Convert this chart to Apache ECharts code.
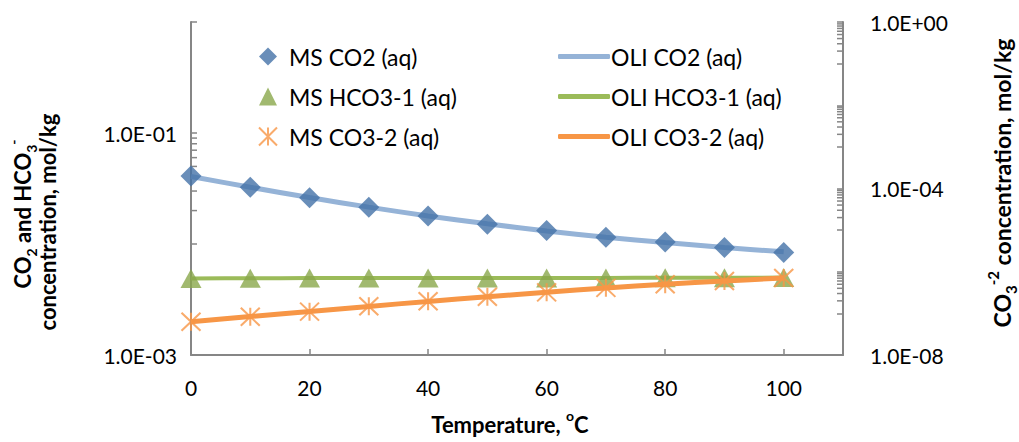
<!DOCTYPE html>
<html>
<head>
<meta charset="utf-8">
<script src="https://cdn.jsdelivr.net/npm/echarts@6/dist/echarts.min.js"></script>
<style>
  html, body { margin: 0; padding: 0; background: #ffffff; }
  #chart { width: 1019px; height: 442px; }
</style>
</head>
<body>
<div id="chart"></div>
<script>
// Temperature, degC
const temperatures = [0, 10, 20, 30, 40, 50, 60, 70, 80, 90, 100];

// Measured (MS) species concentrations, mol/kg
const msCO2  = [0.0410, 0.0324, 0.0261, 0.0214, 0.0179, 0.0151, 0.0132, 0.0115, 0.0104, 0.0093, 0.0084];
const msHCO3 = [0.00490, 0.00492, 0.00493, 0.00494, 0.00494, 0.00494, 0.00494, 0.00495, 0.00496, 0.00497, 0.00498];
const msCO3  = [6.3e-8, 8.3e-8, 1.10e-7, 1.48e-7, 1.95e-7, 2.50e-7, 3.20e-7, 4.10e-7, 5.00e-7, 6.00e-7, 7.10e-7];

// OLI model curves, mol/kg
const oliCO2  = [0.0405, 0.0325, 0.0262, 0.0215, 0.0179, 0.0152, 0.0131, 0.0115, 0.0103, 0.0093, 0.0085];
const oliHCO3 = [0.00490, 0.00492, 0.00493, 0.00494, 0.00494, 0.00494, 0.00494, 0.00495, 0.00496, 0.00497, 0.00498];
const oliCO3  = [6.3e-8, 8.4e-8, 1.11e-7, 1.47e-7, 1.94e-7, 2.50e-7, 3.20e-7, 4.08e-7, 5.00e-7, 6.00e-7, 7.10e-7];

// Axis labels and minor tick positions
const xTickLabels = [0, 20, 40, 60, 80, 100];
const leftLabelValues  = [1e-3, 1e-1];
const rightLabelValues = [1e-8, 1e-4, 1];
const leftMinorTicks  = [0.02, 0.03, 0.04, 0.05, 0.06, 0.07, 0.08, 0.09];
const rightMinorTicks = [
  2e-7, 3e-7, 4e-7, 5e-7, 6e-7, 7e-7, 8e-7, 9e-7,
  2e-5, 3e-5, 4e-5, 5e-5, 6e-5, 7e-5, 8e-5, 9e-5,
  2e-3, 3e-3, 4e-3, 5e-3, 6e-3, 7e-3, 8e-3, 9e-3,
  0.2, 0.3, 0.4, 0.5, 0.6, 0.7, 0.8, 0.9
];

const FONT = 'Lato';
const AXIS_GREY = '#868686';

const pairs = (xs, ys) => xs.map((x, i) => [x, ys[i]]);

function sciLabel(v) {
  const e = Math.round(Math.log10(v));
  return '1.0E' + (e < 0 ? '-' : '+') + String(Math.abs(e)).padStart(2, '0');
}
function pickLabel(list) {
  return function (v) {
    const lv = Math.log10(v);
    return list.some(t => Math.abs(Math.log10(t) - lv) < 1e-6) ? sciLabel(v) : '';
  };
}

function minorTickSeries(values, yAxisIndex, xValue, dir) {
  return {
    type: 'custom',
    name: 'ticks' + yAxisIndex,
    xAxisIndex: 0,
    yAxisIndex: yAxisIndex,
    silent: true,
    clip: false,
    z: 1,
    data: values.map(v => [xValue, v]),
    renderItem: function (params, api) {
      const p = api.coord([api.value(0), api.value(1)]);
      return {
        type: 'line',
        shape: { x1: p[0], y1: p[1], x2: p[0] + dir * 6, y2: p[1] },
        style: { stroke: AXIS_GREY, lineWidth: 1.5 }
      };
    }
  };
}

const chart = echarts.init(document.getElementById('chart'), null, { renderer: 'svg' });

function titleStyles(size) {
  const small = Math.round(size * 0.64);
  return {
    b:   { fontFamily: FONT, fontWeight: 'bold', fontSize: size, fill: '#000', lineHeight: size + 10 },
    sub: { fontFamily: FONT, fontWeight: 'bold', fontSize: small, fill: '#000', verticalAlign: 'bottom', lineHeight: small },
    sup: { fontFamily: FONT, fontWeight: 'bold', fontSize: small, fill: '#000', verticalAlign: 'top', lineHeight: small }
  };
}

const legendText = { fontFamily: FONT, fontSize: 23, color: '#000' };

const option = {
  backgroundColor: '#ffffff',
  animation: false,
  grid: { left: 191, right: 176, top: 22, bottom: 87, containLabel: false },
  xAxis: {
    type: 'value',
    min: 0,
    max: 110,
    interval: 20,
    axisLine: { show: true, onZero: false, lineStyle: { color: AXIS_GREY, width: 2 } },
    axisTick: { show: true, inside: true, length: 6, lineStyle: { color: AXIS_GREY, width: 1.5 } },
    splitLine: { show: false },
    axisLabel: {
      margin: 22,
      color: '#000',
      fontFamily: FONT,
      fontSize: 21,
      formatter: v => (xTickLabels.indexOf(v) >= 0 ? String(v) : '')
    }
  },
  yAxis: [
    {
      type: 'log',
      logBase: 10,
      min: 1e-3,
      max: 1,
      position: 'left',
      axisLine: { show: true, lineStyle: { color: AXIS_GREY, width: 2 } },
      axisTick: { show: true, inside: true, length: 6, lineStyle: { color: AXIS_GREY, width: 1.5 } },
      minorTick: { show: false },
      splitLine: { show: false },
      axisLabel: { margin: 14, color: '#000', fontFamily: FONT, fontSize: 21, formatter: pickLabel(leftLabelValues) }
    },
    {
      type: 'log',
      logBase: 10,
      min: 1e-8,
      max: 1,
      position: 'right',
      axisLine: { show: true, lineStyle: { color: AXIS_GREY, width: 2 } },
      axisTick: { show: true, inside: true, length: 6, lineStyle: { color: AXIS_GREY, width: 1.5 } },
      minorTick: { show: false },
      splitLine: { show: false },
      axisLabel: { margin: 27, color: '#000', fontFamily: FONT, fontSize: 21, formatter: pickLabel(rightLabelValues) }
    }
  ],
  legend: [
    {
      orient: 'vertical',
      left: 253,
      top: 40,
      itemWidth: 18,
      itemHeight: 18,
      itemGap: 17,
      selectedMode: false,
      textStyle: Object.assign({ padding: [0, 0, 0, 7] }, legendText),
      data: ['MS CO2 (aq)', 'MS HCO3-1 (aq)', 'MS CO3-2 (aq)']
    },
    {
      orient: 'vertical',
      left: 553,
      top: 40,
      itemWidth: 52,
      itemHeight: 5,
      itemGap: 17,
      icon: 'roundRect',
      selectedMode: false,
      textStyle: Object.assign({ padding: [0, 0, 0, -4] }, legendText),
      data: ['OLI CO2 (aq)', 'OLI HCO3-1 (aq)', 'OLI CO3-2 (aq)']
    }
  ],
  series: [
    minorTickSeries(leftMinorTicks, 0, 0, 1),
    minorTickSeries(rightMinorTicks, 1, 110, -1),
    {
      name: 'OLI CO2 (aq)',
      type: 'line',
      yAxisIndex: 0,
      data: pairs(temperatures, oliCO2),
      symbol: 'none',
      smooth: 0.3,
      color: '#95B3D7',
      lineStyle: { color: '#95B3D7', width: 5 },
      z: 2
    },
    {
      name: 'MS CO2 (aq)',
      type: 'scatter',
      yAxisIndex: 0,
      data: pairs(temperatures, msCO2),
      symbol: 'diamond',
      symbolSize: [21, 21],
      itemStyle: { color: '#4472A8' },
      z: 3
    },
    {
      name: 'OLI HCO3-1 (aq)',
      type: 'line',
      yAxisIndex: 0,
      data: pairs(temperatures, oliHCO3),
      symbol: 'none',
      smooth: 0.3,
      color: '#9BBB59',
      lineStyle: { color: '#9BBB59', width: 4 },
      z: 4
    },
    {
      name: 'MS HCO3-1 (aq)',
      type: 'scatter',
      yAxisIndex: 0,
      data: pairs(temperatures, msHCO3),
      symbol: 'triangle',
      symbolSize: [21, 19],
      itemStyle: { color: '#8AA84B' },
      z: 5
    },
    {
      name: 'OLI CO3-2 (aq)',
      type: 'line',
      yAxisIndex: 1,
      data: pairs(temperatures, oliCO3),
      symbol: 'none',
      smooth: 0.3,
      color: '#F79646',
      lineStyle: { color: '#F79646', width: 5 },
      z: 6
    },
    {
      name: 'MS CO3-2 (aq)',
      type: 'scatter',
      yAxisIndex: 1,
      data: pairs(temperatures, msCO3),
      symbol: 'path://M0,0 L10,10 M10,0 L0,10 M5,0 L5,10',
      symbolSize: [19, 18],
      color: '#F79646',
      itemStyle: { color: 'rgba(0,0,0,0)', borderColor: '#F79646', borderWidth: 2 },
      z: 7
    }
  ],
  graphic: [
    {
      type: 'text',
      x: 510,
      y: 424,
      style: {
        text: '{b|Temperature, }{sup|o}{b|C}',
        rich: titleStyles(22),
        align: 'center',
        verticalAlign: 'middle'
      }
    },
    {
      type: 'text',
      x: 22,
      y: 214,
      rotation: Math.PI / 2,
      style: {
        text: '{b|CO}{sub|2}{b| and HCO}{sub|3}{sup|-}',
        rich: titleStyles(22),
        align: 'center',
        verticalAlign: 'middle'
      }
    },
    {
      type: 'text',
      x: 47,
      y: 222,
      rotation: Math.PI / 2,
      style: {
        text: '{b|concentration, mol/kg}',
        rich: titleStyles(22),
        align: 'center',
        verticalAlign: 'middle'
      }
    },
    {
      type: 'text',
      x: 1002,
      y: 183,
      rotation: Math.PI / 2,
      style: {
        text: '{b|CO}{sub|3}{sup|-2}{b| concentration, mol/kg}',
        rich: titleStyles(23),
        align: 'center',
        verticalAlign: 'middle'
      }
    }
  ]
};

chart.setOption(option);
</script>
</body>
</html>
